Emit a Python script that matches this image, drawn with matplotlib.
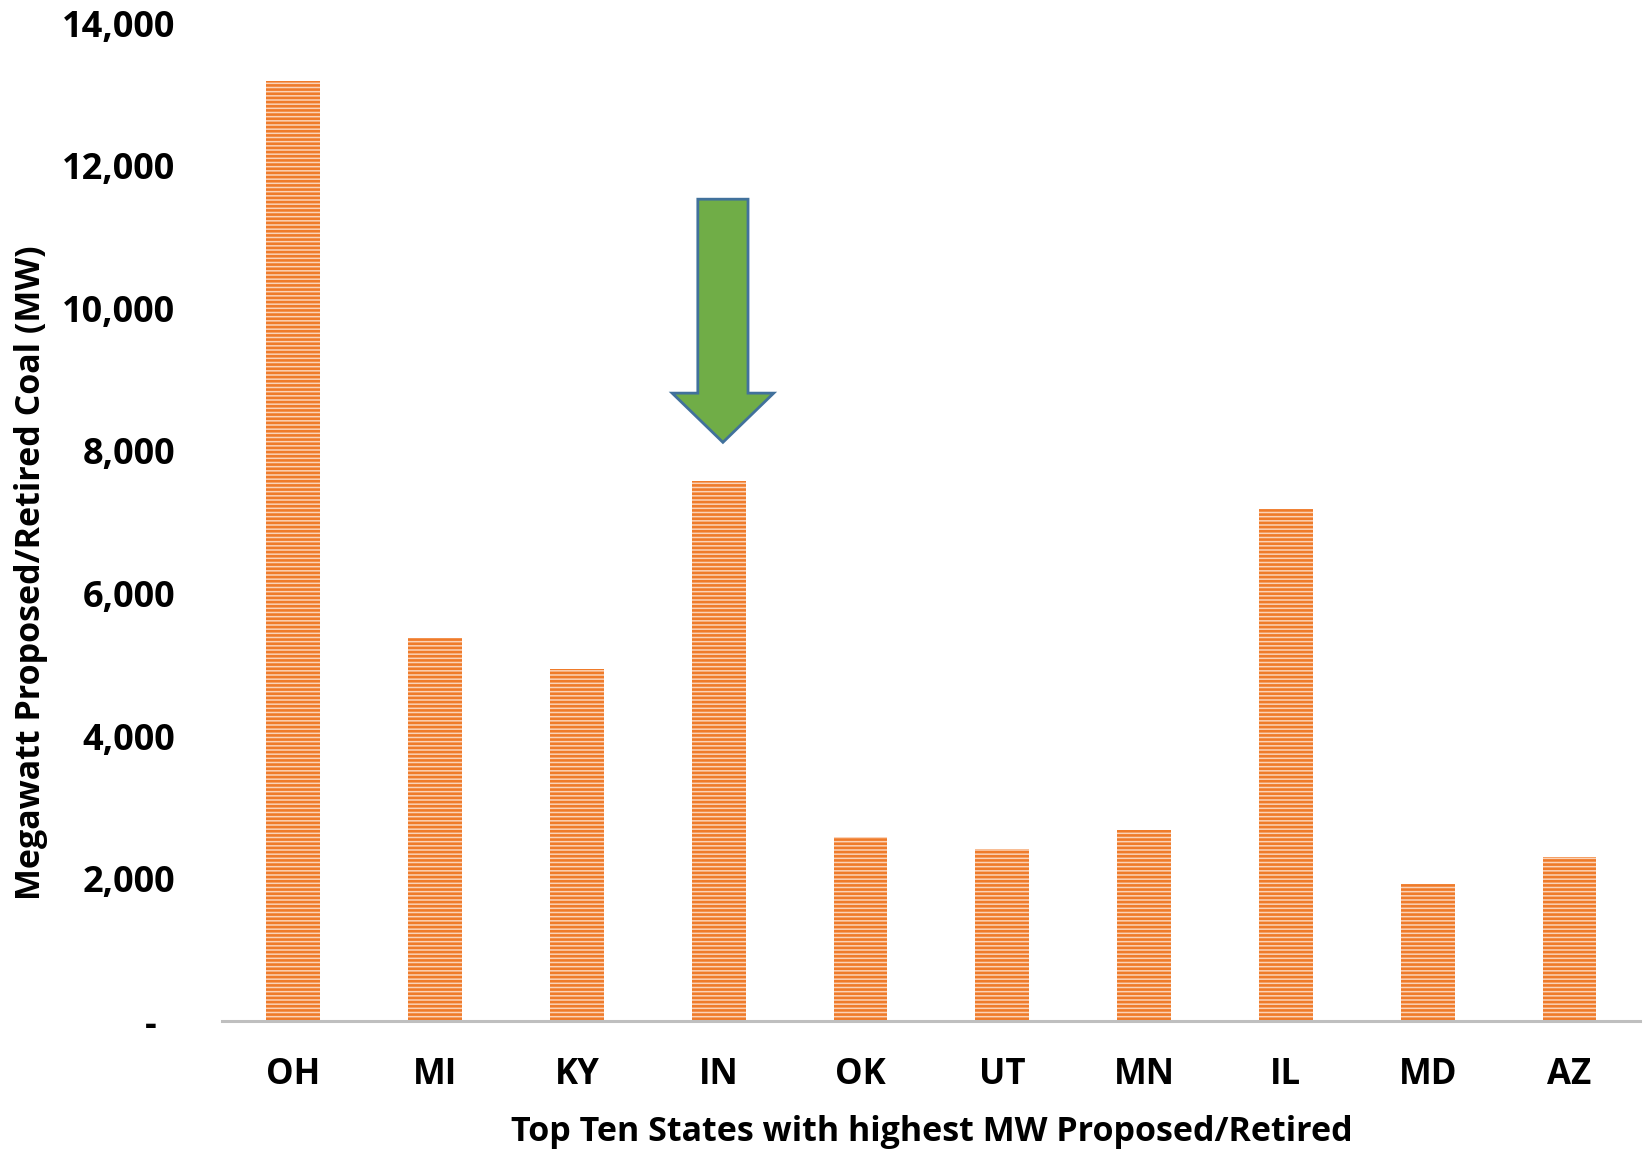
import matplotlib.pyplot as plt
from matplotlib.patches import Polygon
from matplotlib.ticker import FuncFormatter

plt.rcParams['font.family'] = ['Open Sans', 'DejaVu Sans']
plt.rcParams['font.weight'] = 'bold'
plt.rcParams['hatch.linewidth'] = 1.9

states = ['OH', 'MI', 'KY', 'IN', 'OK', 'UT', 'MN', 'IL', 'MD', 'AZ']
megawatts = [13190, 5380, 4940, 7580, 2590, 2420, 2680, 7190, 1930, 2300]
y_ticks = [0, 2000, 4000, 6000, 8000, 10000, 12000, 14000]

# green arrow pointing at Indiana
arrow_x = 3.03
arrow_top = 11530
arrow_neck = 8810
arrow_tip = 8120
shaft_half = 0.177
head_half = 0.358


def tick_label(v, pos):
    if v == 0:
        return '-  '
    return f'{v:,.0f}'


fig = plt.figure(figsize=(16.47, 11.54), dpi=100)
ax = fig.add_axes([0.135, 0.115, 0.861, 0.865])

ax.bar(range(len(states)), megawatts, width=0.38, color='#FBD3B8',
       edgecolor='#EF7B2A', linewidth=0, hatch='----', zorder=2)

pts = [
    (arrow_x - shaft_half, arrow_top),
    (arrow_x + shaft_half, arrow_top),
    (arrow_x + shaft_half, arrow_neck),
    (arrow_x + head_half, arrow_neck),
    (arrow_x, arrow_tip),
    (arrow_x - head_half, arrow_neck),
    (arrow_x - shaft_half, arrow_neck),
]
ax.add_patch(Polygon(pts, closed=True, facecolor='#70AD47',
                     edgecolor='#41719C', linewidth=2, zorder=3))

ax.set_xlim(-0.5, len(states) - 0.5)
ax.set_ylim(0, 14000)
ax.set_yticks(y_ticks)
ax.yaxis.set_major_formatter(FuncFormatter(tick_label))
ax.set_xticks(range(len(states)))
ax.set_xticklabels(states)

for side in ['top', 'right', 'left']:
    ax.spines[side].set_visible(False)
ax.spines['bottom'].set_color('#BFBFBF')
ax.spines['bottom'].set_linewidth(2.2)
ax.spines['bottom'].set_zorder(4)

ax.tick_params(axis='y', length=0, labelsize=26, pad=34)
ax.tick_params(axis='x', length=0, labelsize=25, pad=26)

ax.set_ylabel('Megawatt Proposed/Retired Coal (MW)', fontsize=24.5,
              fontweight='bold')
ax.yaxis.set_label_coords(-0.123, 0.449)
ax.set_xlabel('Top Ten States with highest MW Proposed/Retired',
              fontsize=24.5, fontweight='bold')
ax.xaxis.set_label_coords(0.5, -0.094)

fig.savefig('out.png')
